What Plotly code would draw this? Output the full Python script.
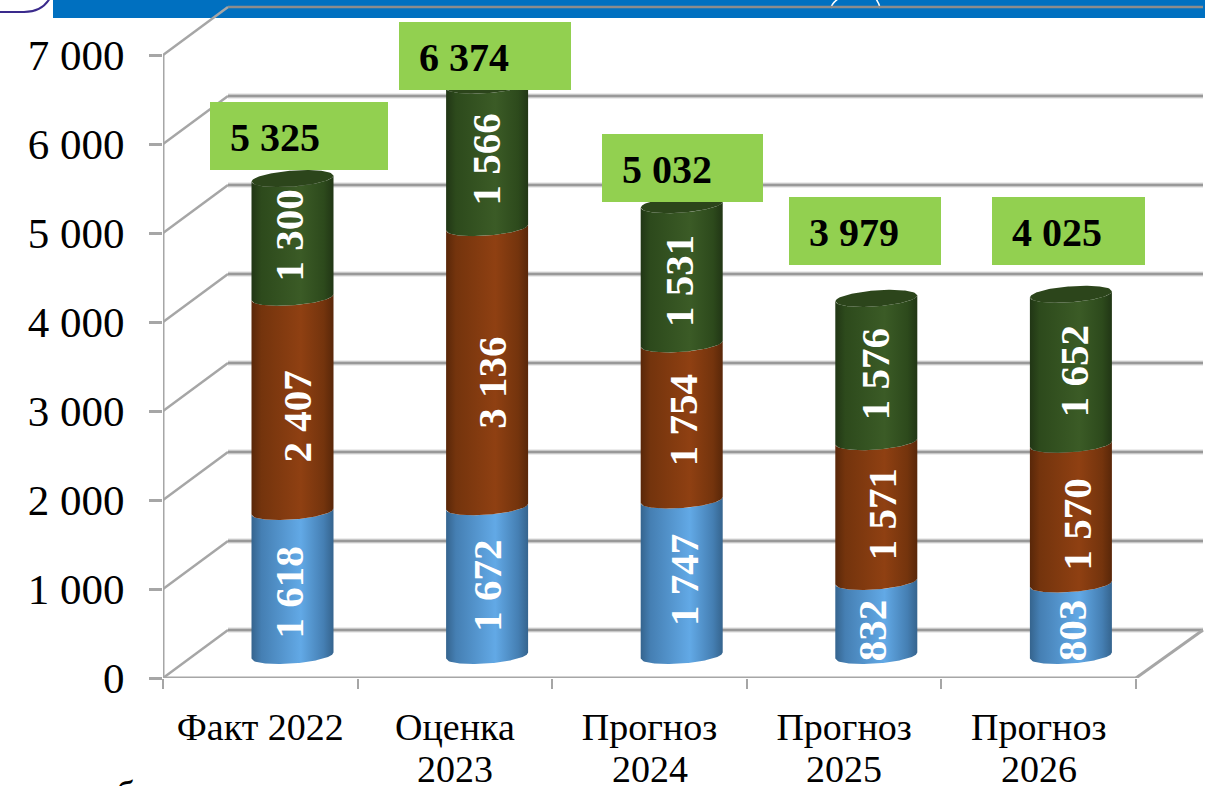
import numpy as np
import plotly.graph_objects as go

# ---- data ----
cat_line1 = ["Факт 2022", "Оценка", "Прогноз", "Прогноз", "Прогноз"]
cat_line2 = ["", "2023", "2024", "2025", "2026"]
series_blue = [1618, 1672, 1747, 832, 803]
series_brown = [2407, 3136, 1754, 1571, 1570]
series_green = [1300, 1566, 1531, 1576, 1652]
totals = [5325, 6374, 5032, 3979, 4025]
y_ticks = [0, 1000, 2000, 3000, 4000, 5000, 6000, 7000]
y_labels = ["0", "1 000", "2 000", "3 000", "4 000", "5 000", "6 000", "7 000"]


def fmt(v):
    return f"{v:,}".replace(",", " ")


# ---- layout geometry (pixels of the 1205x786 page) ----
W, H = 1205, 786
X0, Y0 = 163, 678          # origin of the front axes
PX_CAT, PX_VAL = 194.6, 0.089   # px per category, px per value unit
DEPTH_X, DEPTH_Y = 65, 48  # depth of the 3-D box
X_RIGHT = 1136 + 67
N = len(cat_line1)


def xd(px):
    return (px - X0) / PX_CAT


def pax(px):
    return (px - X0) / (W - X0)


def pay(py):
    return (Y0 - py) / Y0


GRID = "#A6A6A6"
BAR_SHIFT = 32.2 / PX_CAT
BAR_BASE = (Y0 - 655.5) / PX_VAL
HALF_W = 41 / PX_CAT
TILT = 3 / PX_VAL
BULGE = 8 / PX_VAL
CAP_LIFT = 3 / PX_VAL

t = np.linspace(-1, 1, 61)
arc = np.sqrt(1 - t ** 2)

fig = go.Figure()


def rim(cx, v, sign):
    return cx + t * HALF_W, BAR_BASE + v + t * TILT - sign * arc * BULGE


def add_seg(i, lo, hi, stops):
    cx = i + 0.5 + BAR_SHIFT
    xl, yl = rim(cx, lo, 1)
    xh, yh = rim(cx, hi, 1)
    fig.add_trace(go.Scatter(
        x=np.r_[xl, xh[::-1]], y=np.r_[yl, yh[::-1]],
        mode="lines", line=dict(width=0), fill="toself",
        fillgradient=dict(type="horizontal",
                          colorscale=[[0, stops[0]], [0.12, stops[1]], [0.6, stops[2]],
                                      [0.88, stops[1]], [1, stops[0]]]),
        hoverinfo="skip", showlegend=False))


BLUE = ["#35648E", "#457FB3", "#62A9E6"]
BROWN = ["#592709", "#74340D", "#8F4012"]
GREEN = ["#213615", "#2D4A1C", "#3B5B26"]

for i in range(N):
    b, r, g = series_blue[i], series_brown[i], series_green[i]
    add_seg(i, 0, b, BLUE)
    add_seg(i, b, b + r, BROWN)
    add_seg(i, b + r, b + r + g + CAP_LIFT, GREEN)
    cx = i + 0.5 + BAR_SHIFT
    top = b + r + g + CAP_LIFT
    xa, ya = rim(cx, top, 1)
    xb, yb = rim(cx, top, -1)
    fig.add_trace(go.Scatter(
        x=np.r_[xa, xb[::-1]], y=np.r_[ya, yb[::-1]],
        mode="lines", line=dict(width=0), fill="toself", fillcolor="#2C451B",
        hoverinfo="skip", showlegend=False))

# ---- 3-D box lines ----
shapes = []
dx = xd(X0 + DEPTH_X)
dv = DEPTH_Y / PX_VAL
xr = xd(X_RIGHT)


def ln(x0, y0, x1, y1, color=GRID, width=2.5):
    shapes.append(dict(type="line", xref="x", yref="y", x0=x0, y0=y0, x1=x1, y1=y1,
                       line=dict(color=color, width=width), layer="below"))


for v in y_ticks[:-1]:
    ln(dx, v + dv, xr, v + dv, "#D9D9D9", 5)
for v in y_ticks:
    ln(0, v, dx, v + dv)
    ln(dx, v + dv, xr, v + dv, "#8C8C8C" if v == 7000 else "#999999", 2.5)
ln(0, 0, 0, 7000, GRID, 3)
ln(0, 0, N, 0, GRID, 3)
ln(N, 0, xr, dv, GRID, 3)

# banner, decoration
banner = [dict(type="rect", xref="paper", yref="paper", x0=pax(53), x1=pax(W), y0=pay(18), y1=pay(-2),
               fillcolor="#0070C0", line=dict(width=0), layer="below")]
deco = [
    dict(type="path", xref="paper", yref="paper", layer="below",
         path=f"M {pax(-2)} {pay(12)} L {pax(24)} {pay(12)} Q {pax(42)} {pay(12)} {pax(50)} {pay(-2)}",
         line=dict(color="#3A2A8C", width=2)),
    dict(type="path", xref="paper", yref="paper", layer="below",
         path=f"M {pax(831)} {pay(8)} Q {pax(832)} {pay(3)} {pax(838)} {pay(-1)}",
         line=dict(color="#FFFFFF", width=1.5)),
    dict(type="path", xref="paper", yref="paper", layer="below",
         path=f"M {pax(880)} {pay(8)} Q {pax(879)} {pay(3)} {pax(876)} {pay(-1)}",
         line=dict(color="#FFFFFF", width=1.5)),
]

# ---- total boxes (placed by hand in the source) ----
box_left = [210, 399, 602, 789, 992]
box_right = [388, 571, 763, 941, 1145]
box_top = [102, 22, 134, 197, 197]
BOX_H = 68
boxes = [dict(type="rect", xref="paper", yref="paper", x0=pax(l), x1=pax(r), y0=pay(tp + BOX_H), y1=pay(tp),
              fillcolor="#92D050", line=dict(width=0), layer="above")
         for l, r, tp in zip(box_left, box_right, box_top)]

annotations = []
for l, tp, v in zip(box_left, box_top, totals):
    annotations.append(dict(xref="paper", yref="paper", x=pax(l + 18), y=pay(tp + BOX_H / 2 + 1),
                            xanchor="left", yanchor="middle", text=f"<b>{fmt(v)}</b>", showarrow=False,
                            font=dict(family="Liberation Serif", size=40, color="#000000")))

# ---- value labels on the segments ----
label_nudge_y = [[9, 12, -4], [5, 16, 2], [2, -2, 5], [12, 3, 3], [10, 10, 0]]
label_nudge_x = [[-3, 6, -2], [1, 7, 0], [4, 3, -1], [-2, 7, 0], [2, 8, 4]]
for i in range(N):
    lo = 0
    for s, vals in enumerate((series_blue, series_brown, series_green)):
        v = vals[i]
        annotations.append(dict(
            x=i + 0.5 + BAR_SHIFT, y=BAR_BASE + lo + v / 2, xref="x", yref="y",
            yshift=-label_nudge_y[i][s], xshift=label_nudge_x[i][s] - 1.5,
            text=f"<b>{fmt(v)}</b>", showarrow=False, textangle=-90,
            font=dict(family="Liberation Serif", size=41, color="#FFFFFF")))
        lo += v

# second lines of the category labels
for i, txt in enumerate(cat_line2):
    if txt:
        annotations.append(dict(xref="x", yref="paper", x=i + 0.5, y=pay(769), xanchor="center", yanchor="middle",
                                text=txt, showarrow=False,
                                font=dict(family="Liberation Serif", size=38, color="#000000")))

# clipped stray letter at the bottom of the crop
annotations.append(dict(xref="paper", yref="paper", x=pax(125), y=pay(772), xanchor="center", yanchor="top",
                        text="б", showarrow=False,
                        font=dict(family="Liberation Serif", size=37, color="#000000")))

fig.update_layout(
    template=None,
    width=W, height=H, autosize=False,
    margin=dict(l=X0, r=0, t=0, b=H - Y0, pad=0),
    paper_bgcolor="#FFFFFF", plot_bgcolor="rgba(0,0,0,0)",
    showlegend=False,
    shapes=banner + deco + shapes + boxes,
    annotations=annotations,
    xaxis=dict(
        automargin=False,
        range=[0, xd(W)], showgrid=False, zeroline=False, showline=False,
        tickmode="array", tickvals=[i + 0.5 for i in range(N)], ticktext=cat_line1,
        ticks="outside", ticklen=15, tickcolor="rgba(0,0,0,0)", tickangle=0,
        tickfont=dict(family="Liberation Serif", size=38, color="#000000"),
        minor=dict(tickmode="array", tickvals=list(range(N + 1)),
                   ticks="outside", ticklen=10, tickwidth=2, tickcolor=GRID, showgrid=False),
    ),
    yaxis=dict(
        automargin=False,
        range=[0, Y0 / PX_VAL], showgrid=False, zeroline=False, showline=False,
        tickmode="array", tickvals=y_ticks, ticktext=y_labels,
        ticks="outside", ticklen=13, tickwidth=2.5, tickcolor=GRID, ticklabelstandoff=16,
        tickfont=dict(family="Liberation Serif", size=43, color="#000000"),
    ),
)

fig.write_html("out.html", config=dict(displayModeBar=False),
               post_script="document.body.style.margin='0';document.body.style.overflow='hidden';")
